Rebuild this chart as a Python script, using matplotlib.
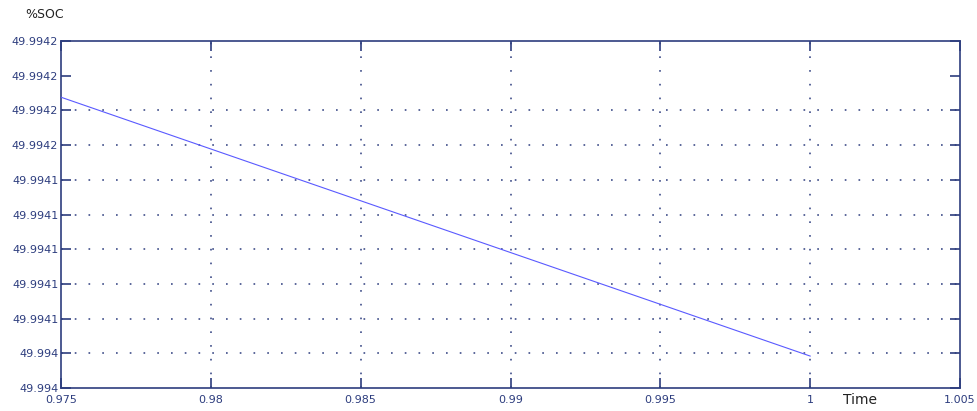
import matplotlib
matplotlib.use('Agg')
import matplotlib.pyplot as plt
import numpy as np

# data
time = [0.975, 1.0]
soc = [49.9942095, 49.9940230]

xticks = [0.975, 0.98, 0.985, 0.99, 0.995, 1.0, 1.005]
xtick_labels = ['0.975', '0.98', '0.985', '0.99', '0.995', '1', '1.005']
yticks = [49.994000, 49.994025, 49.994050, 49.994075, 49.994100, 49.994125,
          49.994150, 49.994175, 49.994200, 49.994225, 49.994250]
ytick_labels = ['49.994', '49.994', '49.9941', '49.9941', '49.9941', '49.9941',
                '49.9941', '49.9942', '49.9942', '49.9942', '49.9942']

navy = '#2d3d7e'
line_blue = '#5a5aff'

fig = plt.figure(figsize=(9.77, 4.11), dpi=100)
ax = fig.add_axes([61/977, 1-388/411, (960-61)/977, (388-41)/411])

ax.plot(time, soc, color=line_blue, lw=0.8, zorder=5)

ax.set_xlim(0.975, 1.005)
ax.set_ylim(yticks[0], yticks[-1])
ax.set_xticks(xticks)
ax.set_xticklabels(xtick_labels)
ax.set_yticks(yticks)
ax.set_yticklabels(ytick_labels)

ax.tick_params(axis='both', direction='in', length=7, width=1.2, color=navy,
               labelcolor=navy, labelsize=8, top=True, right=True)
ax.tick_params(axis='y', pad=2)
ax.tick_params(axis='x', pad=5)
for s in ax.spines.values():
    s.set_color(navy)
    s.set_linewidth(1.2)

# dotted grid, MATLAB style (dash pattern scales with lw)
dots = (0, (1.1, 7.9))
for xv in xticks[1:-1]:
    ax.axvline(xv, color=navy, lw=1.1, linestyle=dots, zorder=1)
for yv in yticks[1:-2]:
    ax.axhline(yv, color=navy, lw=1.1, linestyle=dots, zorder=1)

fig.text(25/977, 1-15/411, '%SOC', fontsize=9, color='#222222', va='center', ha='left')
fig.text(860/977, 1-400/411, 'Time', fontsize=10, color='#222222', va='center', ha='center')

fig.savefig('out.png', dpi=100)
